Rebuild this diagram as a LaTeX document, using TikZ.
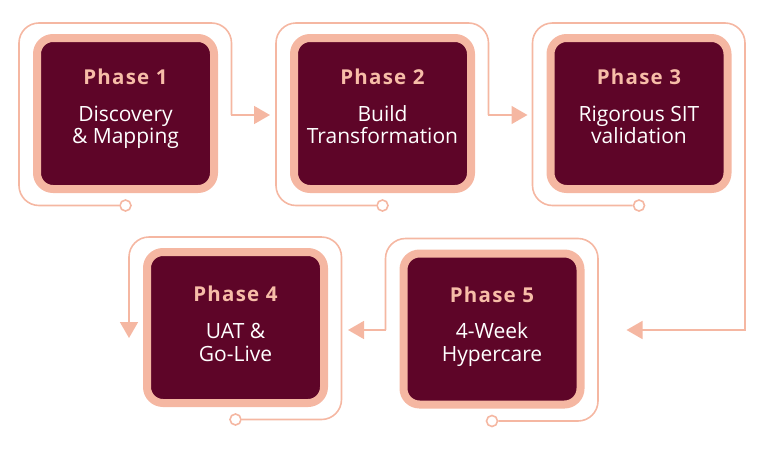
\documentclass[tikz,border=0pt]{standalone}
\usepackage{fontspec}
\setmainfont{Open Sans}
\newfontfamily\titlefam[LetterSpace=6]{Open Sans}
\usetikzlibrary{calc,arrows.meta}
\definecolor{wine}{HTML}{5E0528}
\definecolor{salmon}{HTML}{F5B7A2}
\definecolor{salmontext}{HTML}{F7BDA8}
\tikzset{
  phasebox/.style={draw=salmon, line width=8pt, fill=wine, rounded corners=16pt,
    minimum width=177pt, minimum height=151pt, inner sep=0pt, outer sep=4pt},
  trail/.style={draw=salmon, line width=1.6pt, rounded corners=20pt},
  flow/.style={draw=salmon, line width=1.6pt, -{Triangle[length=16pt,width=18pt]}},
  knob/.style={circle, draw=salmon, line width=1.6pt, fill=white,
    minimum size=11pt, inner sep=0pt},
  ptitle/.style={text=salmontext, font=\titlefam\fontsize{20.5}{24}\selectfont\bfseries, anchor=base, inner sep=0pt},
  pbody/.style={text=white, font=\fontsize{21}{24}\selectfont, anchor=base, inner sep=0pt}
}
\begin{document}
\begin{tikzpicture}[x=1pt,y=-1pt]
\useasboundingbox (0,0) rectangle (768,450);
% boxes
\node[phasebox] (p1) at (125.5,113.5) {};
\node[phasebox] (p2) at (382.5,113.5) {};
\node[phasebox] (p3) at (639,113.5) {};
\node[phasebox] (p4) at (235.5,327.5) {};
\node[phasebox] (p5) at (492,329) {};
% outline corners
\foreach \i in {1,...,5}{
  \coordinate (o\i nw) at ($(p\i.north west)+(-14,-11)$);
  \coordinate (o\i ne) at ($(p\i.north east)+(13.5,-11)$);
  \coordinate (o\i sw) at ($(p\i.south west)+(-14,12.5)$);
  \coordinate (o\i se) at ($(p\i.south east)+(13.5,12.5)$);
}
% knobs
\node[knob] (k1) at (p1.center |- o1sw) {};
\node[knob] (k2) at (p2.center |- o2sw) {};
\node[knob] (k3) at (p3.center |- o3sw) {};
\node[knob] (k4) at (p4.center |- o4sw) {};
\node[knob] (k5) at (p5.center |- o5sw) {};
% arrow targets
\coordinate (a2) at ($(p2.west)+(-20,1.5)$);
\coordinate (a3) at ($(p3.west)+(-19,1.5)$);
\coordinate (a5) at ($(p5.east)+(42,1)$);
\coordinate (a4) at ($(p4.east)+(20,2.5)$);
\coordinate (b1) at (o1ne |- a2);
\coordinate (b2) at (o2ne |- a3);
\coordinate (b3) at (o3ne |- a5);
\coordinate (b5) at (o5nw |- a4);
\coordinate (d4) at ($(o4nw |- p4.center)+(0,10.5)$);
% trails
\draw[trail] (k1.west) -- (k1.west -| o1sw) -- (o1nw) -- (o1ne) -- (b1);
\draw[flow] ($(b1)+(0,-4)$) -- (b1) -- (a2);
\draw[trail] (k2.west) -- (k2.west -| o2sw) -- (o2nw) -- (o2ne) -- (b2);
\draw[flow] ($(b2)+(0,-4)$) -- (b2) -- (a3);
\draw[trail] (k3.west) -- (k3.west -| o3sw) -- (o3nw) -- (o3ne) -- (b3);
\draw[flow] ($(b3)+(0,-4)$) -- (b3) -- (a5);
\draw[trail] (k5.east) -- (k5.east -| o5se) -- (o5ne) -- (o5nw) -- (b5);
\draw[flow] ($(b5)+(0,-4)$) -- (b5) -- (a4);
\draw[trail, -{Triangle[length=16pt,width=18pt]}] (k4.east) -- (k4.east -| o4se) -- (o4ne) -- (o4nw) -- (d4);
% texts
\node[ptitle] (t1) at ($(p1.center)+(0,-29.5)$) {Phase 1};
\node[pbody] (t1a) at ($(p1.center)+(0,7.5)$) {Discovery};
\node[pbody] (t1b) at ($(p1.center)+(0,29.5)$) {\&~Mapping};
\node[ptitle] (t2) at ($(p2.center)+(0,-29.5)$) {Phase 2};
\node[pbody] (t2a) at ($(p2.center)+(0,7.5)$) {Build};
\node[pbody] (t2b) at ($(p2.center)+(0,29.5)$) {Transformation};
\node[ptitle] (t3) at ($(p3.center)+(0,-29.5)$) {Phase 3};
\node[pbody] (t3a) at ($(p3.center)+(0,7.5)$) {Rigorous SIT};
\node[pbody] (t3b) at ($(p3.center)+(0,29.5)$) {validation};
\node[ptitle] (t4) at ($(p4.center)+(0,-26)$) {Phase 4};
\node[pbody] (t4a) at ($(p4.center)+(0,10.5)$) {UAT \&};
\node[pbody] (t4b) at ($(p4.center)+(0,33.5)$) {Go-Live};
\node[ptitle] (t5) at ($(p5.center)+(0,-27)$) {Phase 5};
\node[pbody] (t5a) at ($(p5.center)+(0,9)$) {4-Week};
\node[pbody] (t5b) at ($(p5.center)+(0,32)$) {Hypercare};
\end{tikzpicture}
\end{document}
